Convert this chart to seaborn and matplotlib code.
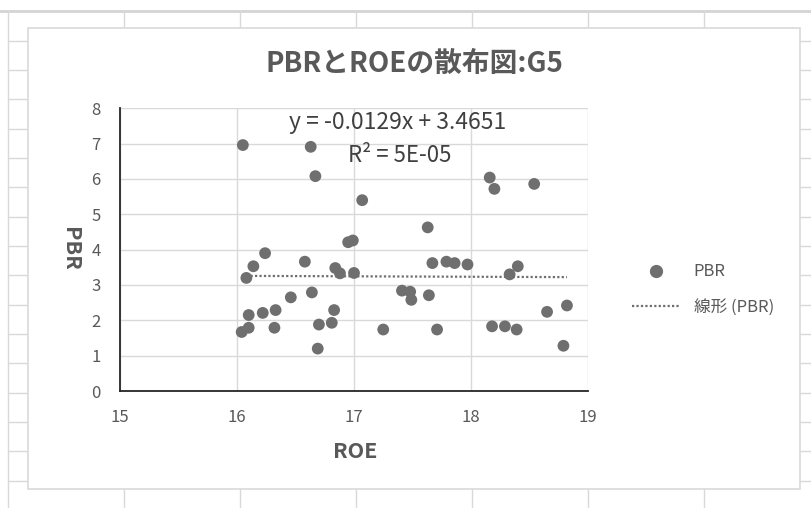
import matplotlib
matplotlib.use("Agg")
import matplotlib.pyplot as plt
from matplotlib.lines import Line2D
from matplotlib.patches import Rectangle
import seaborn as sns
import numpy as np
import pandas as pd

# ---- data ----
roe = [16.05, 16.63, 16.67, 16.95, 16.99, 16.24, 16.14, 16.08, 16.58, 16.84,
       16.88, 17.00, 16.46, 16.64, 16.10, 16.22, 16.33, 16.83, 16.04, 16.10,
       16.32, 16.70, 16.81, 16.69, 18.16, 18.20, 18.54, 17.07, 17.63, 17.67,
       17.79, 17.86, 17.97, 18.40, 18.33, 17.41, 17.48, 17.49, 17.64, 17.25,
       17.71, 18.18, 18.29, 18.39, 18.65, 18.82, 18.79]
pbr = [6.96, 6.91, 6.08, 4.21, 4.26, 3.90, 3.53, 3.20, 3.66, 3.48,
       3.33, 3.34, 2.65, 2.79, 2.15, 2.21, 2.29, 2.29, 1.67, 1.79,
       1.79, 1.88, 1.93, 1.20, 6.04, 5.72, 5.86, 5.40, 4.63, 3.62,
       3.66, 3.62, 3.58, 3.53, 3.30, 2.84, 2.81, 2.58, 2.71, 1.74,
       1.74, 1.83, 1.83, 1.74, 2.24, 2.42, 1.28]
trend_slope = [-0.0129]
trend_intercept = [3.4651]
x_ticks = [15, 16, 17, 18, 19]
y_ticks = [0, 1, 2, 3, 4, 5, 6, 7, 8]
title = "PBRとROEの散布図:G5"
eq_text = "y = -0.0129x + 3.4651"
r2_text = "R² = 5E-05"

W, H = 812, 508
sns.set_style("white")
plt.rcParams['font.family'] = ['Noto Sans CJK JP', 'DejaVu Sans']

fig = plt.figure(figsize=(W / 100, H / 100), dpi=100)
fig.patch.set_facecolor("white")

def fx(px):
    return px / W

def fy(py):
    return 1 - py / H

GRID = "#d9d9d9"
# spreadsheet cell grid (background)
for k in range(16):
    yy = 40.7 + 29.33 * k
    fig.add_artist(Line2D([fx(8), fx(28)], [fy(yy), fy(yy)], color=GRID, lw=1.0, zorder=0))
    fig.add_artist(Line2D([fx(800), fx(812)], [fy(yy), fy(yy)], color=GRID, lw=1.0, zorder=0))
fig.add_artist(Line2D([fx(0), fx(812)], [fy(10.7), fy(10.7)], color="#d4d4d4", lw=2.0, zorder=0))
fig.add_artist(Line2D([fx(8), fx(8)], [fy(10.7), fy(508)], color=GRID, lw=1.0, zorder=0))
for vx in [124, 240, 356, 472, 588, 704]:
    fig.add_artist(Line2D([fx(vx), fx(vx)], [fy(10.7), fy(28)], color=GRID, lw=1.0, zorder=0))
    fig.add_artist(Line2D([fx(vx), fx(vx)], [fy(489), fy(508)], color=GRID, lw=1.0, zorder=0))
# chart area box
fig.add_artist(Rectangle((fx(28), fy(489)), fx(800) - fx(28), fy(28) - fy(489),
                         facecolor="white", edgecolor=GRID, lw=1.2, zorder=0.5))

ax = fig.add_axes([fx(120), fy(391), fx(588) - fx(120), fy(108.3) - fy(391)])
ax.set_zorder(2)
ax.set_facecolor("none")

df = pd.DataFrame({"ROE": roe, "PBR": pbr})
sns.scatterplot(data=df, x="ROE", y="PBR", ax=ax, color="#6f6f6f", s=72,
                edgecolor="none", zorder=3, legend=False)

xs = np.array([min(roe), max(roe)])
trend_df = pd.DataFrame({"ROE": xs, "PBR": trend_slope[0] * xs + trend_intercept[0]})
sns.lineplot(data=trend_df, x="ROE", y="PBR", ax=ax, color="#6f6f6f", lw=1.6,
             zorder=2, legend=False)
ax.lines[-1].set_linestyle((0, (1, 1)))

ax.set_xlim(15, 19)
ax.set_ylim(0, 8)
ax.set_xticks(x_ticks)
ax.set_yticks(y_ticks)
ax.grid(True, color=GRID, lw=1.0)
ax.set_axisbelow(True)
for s in ["top", "right"]:
    ax.spines[s].set_visible(False)
for s in ["left", "bottom"]:
    ax.spines[s].set_color("#262626")
    ax.spines[s].set_linewidth(1.3)
ax.tick_params(axis="both", length=0, labelsize=12, colors="#595959")
ax.tick_params(axis="x", pad=13)
ax.tick_params(axis="y", pad=14)
ax.set_xlabel("")
ax.set_ylabel("")

TXT = "#595959"
fig.text(fx(414), fy(64), title, ha="center", va="center", fontsize=20,
         fontweight="bold", color=TXT)
fig.text(fx(70), fy(249), "PBR", ha="center", va="center", rotation=270,
         fontsize=15.5, fontweight="bold", color=TXT)
fig.text(fx(355), fy(451), "ROE", ha="center", va="center",
         fontsize=15.5, fontweight="bold", color=TXT)
fig.text(fx(398), fy(123), eq_text, ha="center", va="center", fontsize=16.5, color="#404040")
fig.text(fx(400), fy(155), r2_text, ha="center", va="center", fontsize=16, color="#404040")

handles = [Line2D([], [], marker="o", color="#6f6f6f", ls="none", markersize=8.5),
           Line2D([], [], color="#6f6f6f", lw=1.6, ls=(0, (1, 1)))]
leg = fig.legend(handles, ["PBR", "線形 (PBR)"], loc="center left",
                 bbox_to_anchor=(fx(632), fy(289.5)), frameon=False, fontsize=12,
                 handlelength=2.9, handletextpad=0.8, labelspacing=1.1,
                 borderpad=0, borderaxespad=0)
for t in leg.get_texts():
    t.set_color(TXT)

fig.savefig("out.png", dpi=100, facecolor="white")
